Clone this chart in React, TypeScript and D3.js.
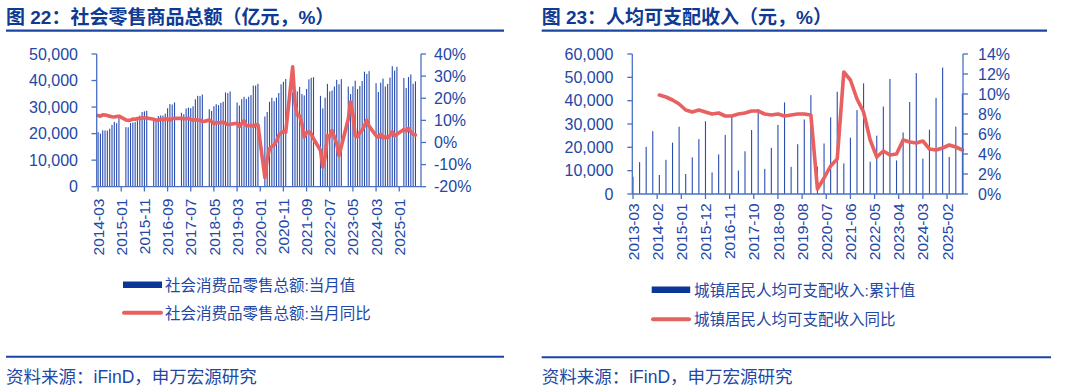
import React from "react";
import * as d3 from "d3";

// ---------- Data: 社会消费品零售总额 (monthly from 2014-03, Jan/Feb missing) ----------
const retailStart = "2014-03";
const retailValue: (number | null)[] = [
  20584, 20004, 21250, 21168, 21148, 21861, 23283, 24451, 23918, 25801,
  null, null, 22433, 22386, 23967, 24154, 24343, 25008, 26792, 28147, 28415, 28635,
  null, null, 24797, 24646, 26611, 26857, 26827, 27540, 29534, 31119, 30959, 31757,
  null, null, 27864, 27278, 29459, 29808, 29610, 30330, 32949, 34240, 34108, 34734,
  null, null, 29194, 28542, 30359, 31099, 30734, 31542, 32005, 35534, 35260, 35893,
  null, null, 31726, 30586, 32956, 33878, 33073, 33896, 34495, 38104, 38094, 38777,
  null, null, 26450, 28178, 31973, 33526, 32203, 33571, 35295, 38576, 39514, 40566,
  null, null, 35484, 33153, 35945, 37586, 34925, 34395, 36833, 40454, 41043, 41269,
  null, null, 34233, 29483, 33547, 38742, 35870, 36258, 37745, 40271, 38615, 40542,
  null, null, 37715, 34910, 37803, 39951, 36761, 37933, 39826, 43333, 42505, 43550,
  null, null, 39020, 35699, 39211, 40732, 37757, 38726, 41112, 45396, 43763, 45172,
  null, null, 40940, 37174, 41326, 42287, 38780, 39668,
];
const retailYoY: (number | null)[] = [
  12.2, 11.9, 12.5, 12.4, 12.2, 11.9, 11.6, 11.5, 11.7, 11.9,
  null, null, 10.2, 10.0, 10.1, 10.6, 10.5, 10.8, 10.9, 11.0, 11.2, 11.1,
  null, null, 10.5, 10.1, 10.0, 10.6, 10.2, 10.6, 10.7, 10.0, 10.8, 10.9,
  null, null, 10.9, 10.7, 10.7, 11.0, 10.4, 10.1, 10.3, 10.0, 10.2, 9.4,
  null, null, 10.1, 9.4, 8.5, 9.0, 8.8, 9.0, 9.2, 8.6, 8.1, 8.2,
  null, null, 8.7, 7.2, 8.6, 9.8, 7.6, 7.5, 7.8, 7.2, 8.0, 8.0,
  null, null, -15.8, -7.5, -2.8, -1.8, -1.1, 0.5, 3.3, 4.3, 5.0, 4.6,
  null, null, 34.2, 17.7, 12.4, 12.1, 8.5, 2.5, 4.4, 4.9, 3.9, 1.7,
  null, null, -3.5, -11.1, -6.7, 3.1, 2.7, 5.4, 2.5, -0.5, -5.9, -1.8,
  null, null, 10.6, 18.4, 12.7, 3.1, 2.5, 4.6, 5.5, 7.6, 10.1, 7.4,
  null, null, 3.1, 2.3, 3.7, 2.0, 2.7, 2.1, 3.2, 4.8, 3.0, 3.7,
  null, null, 5.9, 5.1, 6.4, 4.8, 3.7, 3.4,
];
const retailTickLabels = [
  "2014-03", "2015-01", "2015-11", "2016-09", "2017-07", "2018-05", "2019-03",
  "2020-01", "2020-11", "2021-09", "2022-07", "2023-05", "2024-03", "2025-01",
];
const retailLeftTicks = [0, 10000, 20000, 30000, 40000, 50000];
const retailRightTicks = [-20, -10, 0, 10, 20, 30, 40];

// ---------- Data: 城镇居民人均可支配收入 (quarterly cumulative from 2013-03) ----------
const incomeStart = "2013-03";
const incomeValue = [
  7427, 13649, 20169, 26955,
  8155, 14667, 21996, 28844,
  8572, 15699, 23512, 31195,
  9255, 16957, 25337, 33616,
  10064, 18322, 27430, 36396,
  10781, 19770, 29599, 39251,
  11633, 21342, 31939, 42359,
  11691, 21655, 32821, 43834,
  13120, 24125, 35946, 47412,
  13832, 25003, 37482, 49283,
  14388, 26357, 39428, 51821,
  15150, 27565, 41183, 54188,
  15887, 28844, 43000,
];
const incomeYoYStart = "2014-03";
const incomeYoY = [
  9.9, 9.7, 9.4, 9.0,
  8.4, 8.2, 8.4, 8.2,
  8.0, 8.1, 7.8, 7.8,
  8.0, 8.1, 8.3, 8.3,
  8.0, 7.9, 8.0, 7.8,
  7.9, 8.0, 8.0, 7.9,
  0.5, 1.6, 2.8, 3.5,
  12.2, 11.4, 9.5, 8.2,
  5.4, 3.7, 4.3, 3.9,
  4.0, 5.4, 5.2, 5.1,
  5.3, 4.5, 4.4, 4.6,
  4.9, 4.7, 4.4,
];
const incomeTickLabels = [
  "2013-03", "2014-02", "2015-01", "2015-12", "2016-11", "2017-10", "2018-09",
  "2019-08", "2020-07", "2021-06", "2022-05", "2023-04", "2024-03", "2025-02",
];
const incomeLeftTicks = [0, 10000, 20000, 30000, 40000, 50000, 60000];
const incomeRightTicks = [0, 2, 4, 6, 8, 10, 12, 14];

// ---------- Styles ----------
const C_TITLE = "#0F3A93";
const C_RULE = "#1B45A3";
const C_TEXT = "#2247A6";
const C_AXIS = "#4A70C4";
const C_BAR = "#2A4DB0";
const C_LINE = "#E8605F";
const C_LEGEND_BAR = "#0A3797";
const FONT = "'Liberation Sans', Arial, 'Noto Sans CJK SC', sans-serif";

function monthsBetween(a: string, b: string) {
  const [ya, ma] = a.split("-").map(Number);
  const [yb, mb] = b.split("-").map(Number);
  return (yb - ya) * 12 + (mb - ma);
}

const fmtNum = d3.format(",");

function RetailChart() {
  const x = d3.scaleLinear().domain([-0.6, 139.4]).range([96.7, 421]);
  const yL = d3.scaleLinear().domain([0, 50000]).range([186.7, 54]);
  const yR = d3.scaleLinear().domain([-20, 40]).range([186.7, 54]);
  const pts: [number, number][] = [];
  retailYoY.forEach((v, i) => {
    if (v != null) pts.push([x(i), yR(v)]);
  });
  const line = d3.line<[number, number]>().x((d) => d[0]).y((d) => d[1]);
  const bw = 1.1;
  return (
    <g>
      {retailValue.map((v, i) =>
        v == null ? null : (
          <rect key={i} x={x(i) - bw / 2} y={yL(v)} width={bw} height={yL(0) - yL(v)} fill={C_BAR} />
        )
      )}
      <path d={line(pts) || ""} fill="none" stroke={C_LINE} strokeWidth={3.6} strokeLinejoin="round" strokeLinecap="round" />
      {/* axes */}
      <line x1={96.7} x2={96.7} y1={54} y2={186.7} stroke={C_AXIS} strokeWidth={1.3} />
      <line x1={421} x2={421} y1={54} y2={186.7} stroke={C_AXIS} strokeWidth={1.3} />
      <line x1={96.7} x2={421} y1={186.7} y2={186.7} stroke={C_AXIS} strokeWidth={1.3} />
      {retailLeftTicks.map((t) => (
        <g key={"l" + t}>
          <line x1={91.5} x2={96.7} y1={yL(t)} y2={yL(t)} stroke={C_AXIS} strokeWidth={1.3} />
          <text x={78} y={yL(t)} dy="0.36em" textAnchor="end" fontSize={16} fill={C_TEXT}>{fmtNum(t)}</text>
        </g>
      ))}
      {retailRightTicks.map((t) => (
        <g key={"r" + t}>
          <line x1={421} x2={426} y1={yR(t)} y2={yR(t)} stroke={C_AXIS} strokeWidth={1.3} />
          <text x={434} y={yR(t)} dy="0.36em" textAnchor="start" fontSize={16} fill={C_TEXT}>{t + "%"}</text>
        </g>
      ))}
      {retailTickLabels.map((lab) => {
        const xi = x(monthsBetween(retailStart, lab));
        return (
          <g key={lab}>
            <line x1={xi} x2={xi} y1={186.7} y2={191.5} stroke={C_AXIS} strokeWidth={1.3} />
            <text transform={`translate(${xi},198.5) rotate(-90)`} dy="0.36em" textAnchor="end" fontSize={15.5} fill={C_TEXT}>{lab}</text>
          </g>
        );
      })}
    </g>
  );
}

function IncomeChart() {
  const x = d3.scaleLinear().domain([0, 150]).range([633, 962.4]);
  const yL = d3.scaleLinear().domain([0, 60000]).range([194, 54]);
  const yR = d3.scaleLinear().domain([0, 14]).range([194, 54]);
  const yoyOffset = monthsBetween(incomeStart, incomeYoYStart);
  const pts: [number, number][] = incomeYoY.map((v, i) => [x(yoyOffset + i * 3), yR(v)]);
  const line = d3.line<[number, number]>().x((d) => d[0]).y((d) => d[1]);
  const bw = 1.1;
  return (
    <g>
      {incomeValue.map((v, i) => (
        <rect key={i} x={x(i * 3) - bw / 2} y={yL(v)} width={bw} height={yL(0) - yL(v)} fill={C_BAR} />
      ))}
      <path d={line(pts) || ""} fill="none" stroke={C_LINE} strokeWidth={3.6} strokeLinejoin="round" strokeLinecap="round" />
      <line x1={632.3} x2={632.3} y1={54} y2={194} stroke={C_AXIS} strokeWidth={1.3} />
      <line x1={963} x2={963} y1={54} y2={194} stroke={C_AXIS} strokeWidth={1.3} />
      <line x1={632.3} x2={963} y1={194} y2={194} stroke={C_AXIS} strokeWidth={1.3} />
      {incomeLeftTicks.map((t) => (
        <g key={"l" + t}>
          <line x1={627.3} x2={632.3} y1={yL(t)} y2={yL(t)} stroke={C_AXIS} strokeWidth={1.3} />
          <text x={613.5} y={yL(t)} dy="0.36em" textAnchor="end" fontSize={16} fill={C_TEXT}>{fmtNum(t)}</text>
        </g>
      ))}
      {incomeRightTicks.map((t) => (
        <g key={"r" + t}>
          <line x1={963} x2={968} y1={yR(t)} y2={yR(t)} stroke={C_AXIS} strokeWidth={1.3} />
          <text x={978} y={yR(t)} dy="0.36em" textAnchor="start" fontSize={16} fill={C_TEXT}>{t + "%"}</text>
        </g>
      ))}
      {incomeTickLabels.map((lab) => {
        const xi = x(monthsBetween(incomeStart, lab));
        return (
          <g key={lab}>
            <line x1={xi} x2={xi} y1={194} y2={199} stroke={C_AXIS} strokeWidth={1.3} />
            <text transform={`translate(${xi},203.3) rotate(-90)`} dy="0.36em" textAnchor="end" fontSize={15.5} fill={C_TEXT}>{lab}</text>
          </g>
        );
      })}
    </g>
  );
}

export default function App() {
  return (
    <svg width={1069} height={391} style={{ position: "absolute", left: 0, top: 0, background: "#fff" }} fontFamily={FONT}>
      {/* titles */}
      <text x={6} y={23.5} fontSize={19} fontWeight="bold" fill={C_TITLE}>图 22：社会零售商品总额（亿元，%）</text>
      <line x1={6} x2={504} y1={30.7} y2={30.7} stroke={C_RULE} strokeWidth={2.3} />
      <text x={541.7} y={23.5} fontSize={19} fontWeight="bold" fill={C_TITLE}>图 23：人均可支配收入（元，%）</text>
      <line x1={541.7} x2={1047} y1={30.7} y2={30.7} stroke={C_RULE} strokeWidth={2.3} />

      <RetailChart />
      <IncomeChart />

      {/* legends */}
      <rect x={123} y={281.5} width={39} height={6.5} fill={C_LEGEND_BAR} />
      <text x={165} y={285} dominantBaseline="central" fontSize={15.5} fill={C_TEXT}>社会消费品零售总额:当月值</text>
      <line x1={124} x2={161} y1={312.7} y2={312.7} stroke={C_LINE} strokeWidth={4} strokeLinecap="round" />
      <text x={165} y={313.3} dominantBaseline="central" fontSize={15.5} fill={C_TEXT}>社会消费品零售总额:当月同比</text>

      <rect x={651.7} y={286.5} width={38.5} height={6.5} fill={C_LEGEND_BAR} />
      <text x={694} y={290} dominantBaseline="central" fontSize={15.5} fill={C_TEXT}>城镇居民人均可支配收入:累计值</text>
      <line x1={653} x2={689} y1={319.3} y2={319.3} stroke={C_LINE} strokeWidth={4} strokeLinecap="round" />
      <text x={694} y={319.5} dominantBaseline="central" fontSize={15.5} fill={C_TEXT}>城镇居民人均可支配收入同比</text>

      {/* source */}
      <line x1={6} x2={504} y1={356.7} y2={356.7} stroke={C_RULE} strokeWidth={2} />
      <text x={6} y={377} dominantBaseline="central" fontSize={17.5} fill={C_TEXT}>资料来源：iFinD，申万宏源研究</text>
      <line x1={541.7} x2={1051} y1={357.3} y2={357.3} stroke={C_RULE} strokeWidth={2} />
      <text x={541.7} y={377} dominantBaseline="central" fontSize={17.5} fill={C_TEXT}>资料来源：iFinD，申万宏源研究</text>
    </svg>
  );
}
